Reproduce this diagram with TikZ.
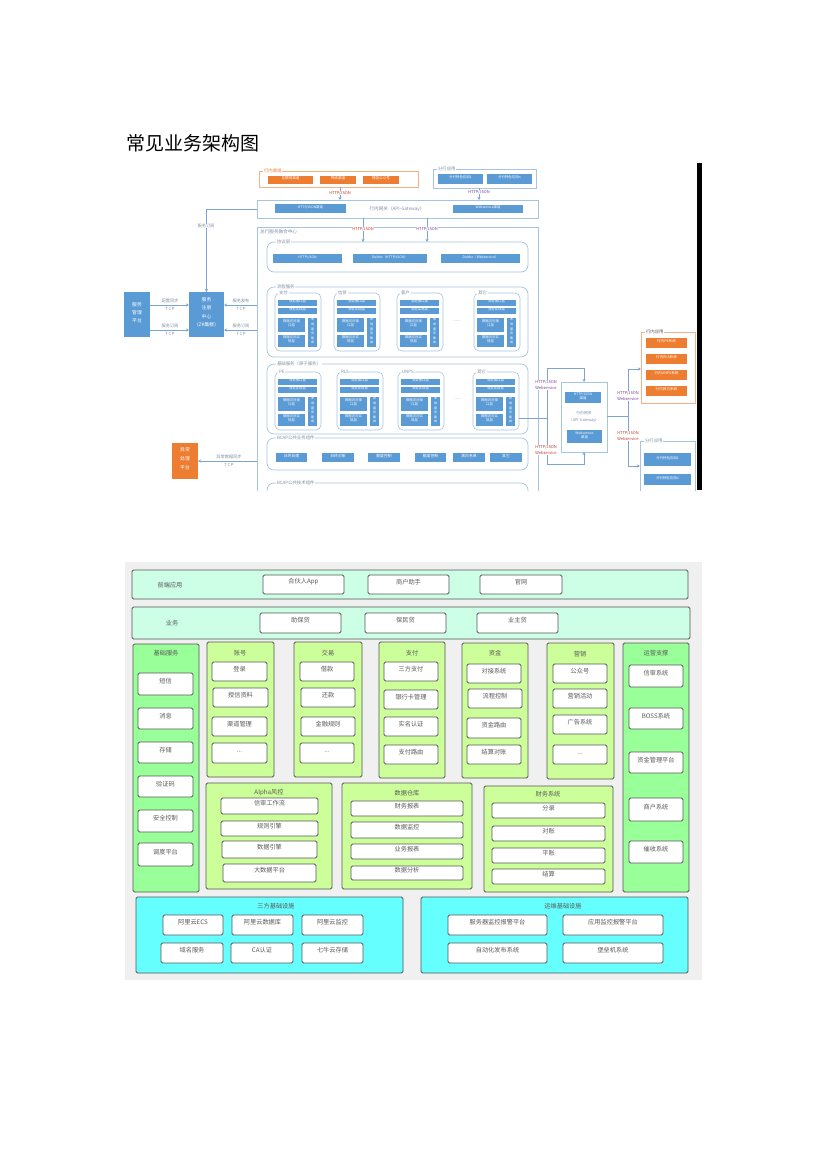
\documentclass[tikz,border=0pt]{standalone}
\usepackage{fontspec}
\setmainfont{Noto Sans CJK SC}
\usetikzlibrary{fit,arrows.meta}

\definecolor{tblue}{HTML}{5B9BD5}
\definecolor{torange}{HTML}{ED7D31}
\definecolor{tline}{HTML}{A6C4E4}
\definecolor{cline}{HTML}{7BA3D3}
\definecolor{tgray}{HTML}{7F8FA3}
\definecolor{tred}{HTML}{C0392B}
\definecolor{tpurple}{HTML}{7D3C98}
\definecolor{mint}{HTML}{CCFFE6}
\definecolor{leaf}{HTML}{99FF99}
\definecolor{lime}{HTML}{CCFF99}
\definecolor{aqua}{HTML}{66FFFF}
\definecolor{bgray}{HTML}{F0F0F0}
\definecolor{edgec}{HTML}{555555}

% box given by its two corners
\newcommand\mkbox[7]{\node[inner sep=0pt,outer sep=0pt,#2,fit={(#3,#4) (#5,#6)}] (#1) {#7};}

% one service module with its layered stack
\newcommand\subgrp[4]{%
  \mkbox{#1}{sgrp}{#2}{#3}{#2+46}{#3+58}{}
  \node[tlegend] (#1-t) at (#2+3,#3) {#4};
  \mkbox{#1-a}{bbox}{#2+3}{#3+7}{#2+42}{#3+13}{业务接口层}
  \mkbox{#1-b}{bbox}{#2+3}{#3+15}{#2+42}{#3+21}{业务实现层}
  \mkbox{#1-c}{bbox}{#2+3}{#3+25}{#2+30}{#3+39}{数据访问接\\口层}
  \mkbox{#1-d}{bbox}{#2+3}{#3+42}{#2+30}{#3+54}{数据访问实\\现层}
  \mkbox{#1-e}{bvert}{#2+33}{#3+25}{#2+42}{#3+54}{本\\地\\服\\务\\集\\成}
}

\begin{document}
\begin{tikzpicture}[x=1pt,y=-1pt,
  bbox/.style={fill=tblue,text=white,align=center,font=\fontsize{3.4}{4}\selectfont},
  bbox2/.style={fill=tblue,text=white,align=center,font=\fontsize{3.8}{4.4}\selectfont},
  bvert/.style={fill=tblue,text=white,align=center,font=\fontsize{3}{4.6}\selectfont},
  obox/.style={fill=torange,text=white,align=center,font=\fontsize{3.6}{4.2}\selectfont},
  bigb/.style={fill=tblue,text=white,align=center,font=\fontsize{4.8}{8.2}\selectfont},
  bigo/.style={fill=torange,text=white,align=center,font=\fontsize{4.8}{9}\selectfont},
  tframe/.style={draw=tline,line width=0.7pt},
  rgrp/.style={draw=tline,line width=0.7pt,rounded corners=7pt},
  sgrp/.style={draw=tline,line width=0.6pt,rounded corners=5pt},
  ogrp/.style={draw=torange!60,line width=0.7pt},
  tlegend/.style={fill=white,text=tgray,font=\fontsize{4.4}{5}\selectfont,inner sep=0.8pt,anchor=west},
  tnote/.style={fill=white,text=tgray,font=\fontsize{4.2}{5}\selectfont,inner sep=0.4pt,align=center},
  proto/.style={fill=white,font=\fontsize{4}{6.3}\selectfont,inner sep=0.5pt,align=center},
  redtag/.style={proto,text=tred},
  purtag/.style={proto,text=tpurple},
  conn/.style={draw=cline,line width=0.6pt},
  arr/.style={conn,-{Stealth[length=3pt,width=3pt]}},
  panel/.style={draw=edgec,line width=0.8pt,rounded corners=1.5pt},
  wbox/.style={draw=edgec,fill=white,line width=0.8pt,rounded corners=1.5pt,text=black!65,font=\fontsize{6.2}{7}\selectfont},
  ttl/.style={text=black!65,font=\fontsize{6.2}{7}\selectfont,inner sep=0pt}]

\useasboundingbox (0,0) rectangle (827,1170);
\fill[white] (0,0) rectangle (827,1170);

\node[anchor=west,inner sep=0pt,font=\fontsize{19}{20}\selectfont] (title) at (126,143) {常见业务架构图};

% ================= upper architecture =================
\begin{scope}
\clip (118,155) rectangle (703,490);

% channels
\mkbox{qd}{ogrp}{259}{171}{418}{187}{}
\node[tlegend,text=torange] (qd-t) at (263,171) {行内渠道};
\mkbox{qd1}{obox}{268}{176}{313}{184}{互联网渠道}
\mkbox{qd2}{obox}{320}{176}{356}{184}{传统渠道}
\mkbox{qd3}{obox}{363}{176}{399}{184}{微信公众号}

\mkbox{fh}{tframe}{433}{169}{536}{188}{}
\node[tlegend] (fh-t) at (437,169) {分行应用};
\mkbox{fh1}{bbox}{438}{174}{483}{184}{分行特色应用1}
\mkbox{fh2}{bbox}{487}{174}{532}{184}{分行特色应用n}

% gateway
\mkbox{gw}{tframe}{257}{200}{538}{218}{}
\mkbox{gw1}{bbox}{275}{204}{346}{213}{HTTP/JSON渠道}
\node[text=tgray,font=\fontsize{4.6}{5}\selectfont,inner sep=0pt] (gwt) at (397,209) {行内网关（API-Gateway）};
\mkbox{gw2}{bbox}{453}{205}{523}{213}{Webservice渠道}

% service hub
\mkbox{hub}{tframe}{257}{227}{538}{540}{}
\node[anchor=west,text=tgray,font=\fontsize{4.6}{5}\selectfont,inner sep=0pt] (hub-t) at (260,232) {总行服务融合中心};

\mkbox{xy}{rgrp}{267}{242}{528}{272}{}
\node[tlegend] (xy-t) at (276,242) {协议层};
\mkbox{xy1}{bbox}{273}{254}{342}{263}{HTTP/JSON}
\mkbox{xy2}{bbox}{353}{254}{427}{263}{Dubbo（HTTP/JSON）}
\mkbox{xy3}{bbox}{441}{254}{520}{263}{Dubbo（Webservice）}

\mkbox{lc}{rgrp}{267}{287}{528}{357}{}
\node[tlegend] (lc-t) at (276,287) {流程服务};
\subgrp{pay}{275}{293}{支付}
\subgrp{loan}{334}{293}{信贷}
\subgrp{cust}{397}{293}{客户}
\subgrp{oth1}{474}{293}{其它}
\node[text=tgray,font=\fontsize{4.5}{5}\selectfont,inner sep=0pt] (dots1) at (457,321) {......};

\mkbox{ys}{rgrp}{267}{364}{528}{434}{}
\node[tlegend] (ys-t) at (276,364) {基础服务（原子服务）};
\subgrp{pe}{275}{372}{PE}
\subgrp{rls}{337}{372}{RLS}
\subgrp{unps}{398}{372}{UNPS}
\subgrp{oth2}{473}{372}{其它}
\node[text=tgray,font=\fontsize{4.5}{5}\selectfont,inner sep=0pt] (dots2) at (458,399) {......};

\mkbox{bc1}{rgrp}{267}{438}{528}{470}{}
\node[tlegend] (bc1-t) at (276,438) {BCAP公共业务组件};
\mkbox{bc1a}{bbox2}{276}{453}{307}{462}{日终处理}
\mkbox{bc1b}{bbox2}{322}{453}{354}{462}{日终对账}
\mkbox{bc1c}{bbox2}{368}{453}{400}{462}{额度控制}
\mkbox{bc1d}{bbox2}{415}{453}{446}{462}{额度控制}
\mkbox{bc1e}{bbox2}{453}{453}{485}{462}{黑白名单}
\mkbox{bc1f}{bbox2}{490}{453}{522}{462}{其它}

\mkbox{bc2}{rgrp}{267}{483}{528}{540}{}
\node[tlegend] (bc2-t) at (276,483) {BCAP公共技术组件};

% registry side
\mkbox{reg}{bigb}{189}{292}{224}{337}{服务\\注册\\中心\\(ZK集群)}
\mkbox{mgr}{bigb}{124}{292}{150}{337}{服务\\管理\\平台}
\mkbox{err}{bigo}{172}{443}{198}{479}{异常\\处理\\平台}

% outer gateway and applications
\mkbox{api}{tframe}{561}{382}{607}{452}{}
\mkbox{api1}{bbox}{565}{392}{601}{403}{HTTP/JSON\\渠道}
\node[text=tgray,align=center,font=\fontsize{3.8}{7.5}\selectfont,inner sep=0pt] (apit) at (584,417) {行内网关\\（API-Gateway）};
\mkbox{api2}{bbox}{567}{430}{602}{443}{Webservice\\渠道}

\mkbox{hn}{ogrp}{641}{332}{695}{403}{}
\node[tlegend,text=black!65] (hn-t) at (645,332) {行内应用};
\mkbox{hn1}{obox}{646}{338}{687}{348}{行内PE系统}
\mkbox{hn2}{obox}{646}{354}{687}{364}{行内RLS系统}
\mkbox{hn3}{obox}{646}{370}{687}{380}{行内UNPS系统}
\mkbox{hn4}{obox}{646}{386}{687}{396}{行内其它系统}

\mkbox{fr}{tframe}{640}{441}{695}{540}{}
\node[tlegend] (fr-t) at (644,441) {分行应用};
\mkbox{fr1}{bbox}{644}{453}{691}{466}{分行特色应用1}
\mkbox{fr2}{bbox}{644}{474}{691}{485}{分行特色应用n}

% connectors
\coordinate (xa) at (340,0);
\coordinate (xb) at (479,0);
\coordinate (xc) at (363,0);
\coordinate (xd) at (427,0);
\draw[arr] (qd.south -| xa) -- (gw.north -| xa);
\draw[arr] (fh.south -| xb) -- (gw.north -| xb);
\draw[arr] (gw.south -| xc) -- (xy.north -| xc);
\draw[arr] (gw.south -| xd) -- (xy.north -| xd);

\coordinate (yA) at (0,305);
\coordinate (yB) at (0,330);
\coordinate (yC) at (0,461);
\draw[arr] (gw.west) -| (reg.north);
\draw[arr] (mgr.east |- yA) -- (reg.west |- yA);
\draw[arr] (mgr.east |- yB) -- (reg.west |- yB);
\draw[arr] (hub.west |- yA) -- (reg.east |- yA);
\draw[arr] (hub.west |- yB) -- (reg.east |- yB);
\draw[arr] (hub.west |- yC) -- (err.east |- yC);

\coordinate (busT) at (547,368);
\coordinate (busM) at (547,418);
\coordinate (busB) at (547,464);
\draw[conn] (busT) -- (busB);
\draw[conn] (oth2.east |- busM) -- (busM);
\draw[arr] (busT) -| (api.north);
\draw[arr] (busB) -| (api.south);

\coordinate (rbT) at (628,369);
\coordinate (rbM) at (628,416);
\coordinate (rbB) at (628,466);
\draw[conn] (api.east |- rbM) -- (rbM);
\draw[conn] (rbT) -- (rbB);
\draw[arr] (rbT) -- (hn.west |- rbT);
\draw[arr] (rbB) -- (fr.west |- rbB);

% connector labels
\node[redtag] (p1) at (340,193) {HTTP/JSON};
\node[purtag] (p2) at (479,192) {HTTP/JSON};
\node[redtag] (p3) at (363,229) {HTTP/JSON};
\node[purtag] (p4) at (427,229) {HTTP/JSON};
\node[purtag] (p5) at (546,385) {HTTP/JSON\\Webservice};
\node[redtag] (p6) at (546,450) {HTTP/JSON\\Webservice};
\node[purtag] (p7) at (628,396) {HTTP/JSON\\Webservice};
\node[redtag] (p8) at (628,436) {HTTP/JSON\\Webservice};

\node[tnote] (n1) at (206,226) {服务订阅};
\node[tnote] (n2) at (170,301) {配置同步};
\node[tnote] (n3) at (170,309) {T\,C\,P};
\node[tnote] (n4) at (170,326) {服务订阅};
\node[tnote] (n5) at (170,334) {T\,C\,P};
\node[tnote] (n6) at (241,301) {服务发布};
\node[tnote] (n7) at (241,309) {T\,C\,P};
\node[tnote] (n8) at (241,326) {服务订阅};
\node[tnote] (n9) at (241,334) {T\,C\,P};
\node[tnote] (n10) at (229,457) {异常数据同步};
\node[tnote] (n11) at (229,465) {T\,C\,P};

\fill[black] (697,163) rectangle (702,490);
\end{scope}

% ================= lower architecture =================
\fill[bgray] (125,562) rectangle (702,980);

\mkbox{fe}{panel,fill=mint}{132}{570}{688}{599}{}
\node[ttl] (fe-t) at (170,585) {前端应用};
\mkbox{fe1}{wbox}{263}{575}{344}{594}{合伙人App}
\mkbox{fe2}{wbox}{368}{575}{449}{594}{商户助手}
\mkbox{fe3}{wbox}{480}{575}{562}{594}{官网}

\mkbox{biz}{panel,fill=mint}{132}{607}{690}{639}{}
\node[ttl] (biz-t) at (172,623) {业务};
\mkbox{biz1}{wbox}{260}{613}{341}{633}{助保贷}
\mkbox{biz2}{wbox}{365}{613}{446}{633}{保民贷}
\mkbox{biz3}{wbox}{477}{613}{558}{633}{业主贷}

% basic services
\mkbox{jc}{panel,fill=leaf}{133}{644}{199}{892}{}
\node[ttl] (jc-t) at (166,653) {基础服务};
\mkbox{jc1}{wbox}{138}{673}{193}{695}{短信}
\mkbox{jc2}{wbox}{138}{708}{193}{729}{消息}
\mkbox{jc3}{wbox}{138}{742}{193}{763}{存储}
\mkbox{jc4}{wbox}{138}{776}{193}{797}{验证码}
\mkbox{jc5}{wbox}{138}{810}{193}{832}{安全控制}
\mkbox{jc6}{wbox}{138}{843}{193}{866}{调度平台}

% account
\mkbox{zh}{panel,fill=lime}{207}{642}{274}{777}{}
\node[ttl] (zh-t) at (240,653) {账号};
\mkbox{zh1}{wbox}{212}{662}{267}{681}{登录}
\mkbox{zh2}{wbox}{213}{688}{268}{707}{授信资料}
\mkbox{zh3}{wbox}{212}{717}{267}{736}{渠道管理}
\mkbox{zh4}{wbox}{212}{743}{267}{763}{...}

% trade
\mkbox{jy}{panel,fill=lime}{294}{642}{362}{777}{}
\node[ttl] (jy-t) at (328,653) {交易};
\mkbox{jy1}{wbox}{300}{662}{354}{681}{借款}
\mkbox{jy2}{wbox}{301}{688}{355}{707}{还款}
\mkbox{jy3}{wbox}{301}{717}{355}{736}{金融规则}
\mkbox{jy4}{wbox}{300}{743}{354}{763}{...}

% payment
\mkbox{zf}{panel,fill=lime}{379}{642}{445}{778}{}
\node[ttl] (zf-t) at (412,653) {支付};
\mkbox{zf1}{wbox}{384}{662}{438}{681}{三方支付}
\mkbox{zf2}{wbox}{384}{690}{438}{709}{银行卡管理}
\mkbox{zf3}{wbox}{384}{717}{438}{736}{实名认证}
\mkbox{zf4}{wbox}{384}{745}{438}{764}{支付路由}

% funds
\mkbox{zj}{panel,fill=lime}{462}{643}{528}{778}{}
\node[ttl] (zj-t) at (495,653) {资金};
\mkbox{zj1}{wbox}{467}{664}{521}{683}{对接系统}
\mkbox{zj2}{wbox}{468}{689}{522}{708}{流程控制}
\mkbox{zj3}{wbox}{467}{718}{521}{738}{资金路由}
\mkbox{zj4}{wbox}{467}{745}{521}{764}{结算对账}

% marketing
\mkbox{yx}{panel,fill=lime}{547}{643}{614}{779}{}
\node[ttl] (yx-t) at (580,654) {营销};
\mkbox{yx1}{wbox}{553}{664}{607}{683}{公众号}
\mkbox{yx2}{wbox}{553}{689}{607}{708}{营销活动}
\mkbox{yx3}{wbox}{553}{715}{607}{734}{广告系统}
\mkbox{yx4}{wbox}{553}{745}{607}{764}{...}

% operations support
\mkbox{yy}{panel,fill=leaf}{623}{643}{689}{892}{}
\node[ttl] (yy-t) at (656,653) {运营支撑};
\mkbox{yy1}{wbox}{629}{665}{683}{687}{信审系统}
\mkbox{yy2}{wbox}{629}{708}{683}{729}{BOSS系统}
\mkbox{yy3}{wbox}{629}{752}{683}{773}{资金管理平台}
\mkbox{yy4}{wbox}{629}{798}{683}{821}{商户系统}
\mkbox{yy5}{wbox}{629}{841}{683}{863}{催收系统}

% risk control
\mkbox{af}{panel,fill=lime}{206}{783}{332}{889}{}
\node[ttl] (af-t) at (269,793) {Alpha风控};
\mkbox{af1}{wbox}{221}{798}{318}{814}{信审工作流}
\mkbox{af2}{wbox}{221}{821}{318}{836}{规则引擎}
\mkbox{af3}{wbox}{222}{841}{317}{858}{数据引擎}
\mkbox{af4}{wbox}{223}{864}{316}{882}{大数据平台}

% data warehouse
\mkbox{sc}{panel,fill=lime}{342}{783}{472}{889}{}
\node[ttl] (sc-t) at (407,793) {数据仓库};
\mkbox{sc1}{wbox}{351}{801}{463}{816}{财务报表}
\mkbox{sc2}{wbox}{351}{822}{463}{838}{数据监控}
\mkbox{sc3}{wbox}{351}{844}{463}{859}{业务报表}
\mkbox{sc4}{wbox}{351}{866}{463}{880}{数据分析}

% finance
\mkbox{cw}{panel,fill=lime}{484}{786}{613}{892}{}
\node[ttl] (cw-t) at (548,794) {财务系统};
\mkbox{cw1}{wbox}{492}{803}{605}{818}{分录}
\mkbox{cw2}{wbox}{492}{826}{605}{841}{对账}
\mkbox{cw3}{wbox}{492}{848}{605}{863}{平账}
\mkbox{cw4}{wbox}{492}{869}{605}{884}{结算}

% third-party infrastructure
\mkbox{sf}{panel,fill=aqua}{136}{897}{403}{973}{}
\node[ttl] (sf-t) at (276,906) {三方基础设施};
\mkbox{sf1}{wbox}{163}{915}{223}{935}{阿里云ECS}
\mkbox{sf2}{wbox}{232}{915}{293}{935}{阿里云数据库}
\mkbox{sf3}{wbox}{302}{915}{363}{935}{阿里云监控}
\mkbox{sf4}{wbox}{161}{943}{223}{963}{域名服务}
\mkbox{sf5}{wbox}{231}{943}{293}{963}{CA认证}
\mkbox{sf6}{wbox}{302}{943}{363}{963}{七牛云存储}

% ops infrastructure
\mkbox{yw}{panel,fill=aqua}{421}{897}{688}{973}{}
\node[ttl] (yw-t) at (563,906) {运维基础设施};
\mkbox{yw1}{wbox}{448}{915}{547}{935}{服务器监控报警平台}
\mkbox{yw2}{wbox}{563}{915}{663}{935}{应用监控报警平台}
\mkbox{yw3}{wbox}{448}{943}{547}{963}{自动化发布系统}
\mkbox{yw4}{wbox}{563}{943}{663}{963}{堡垒机系统}

\end{tikzpicture}
\end{document}
